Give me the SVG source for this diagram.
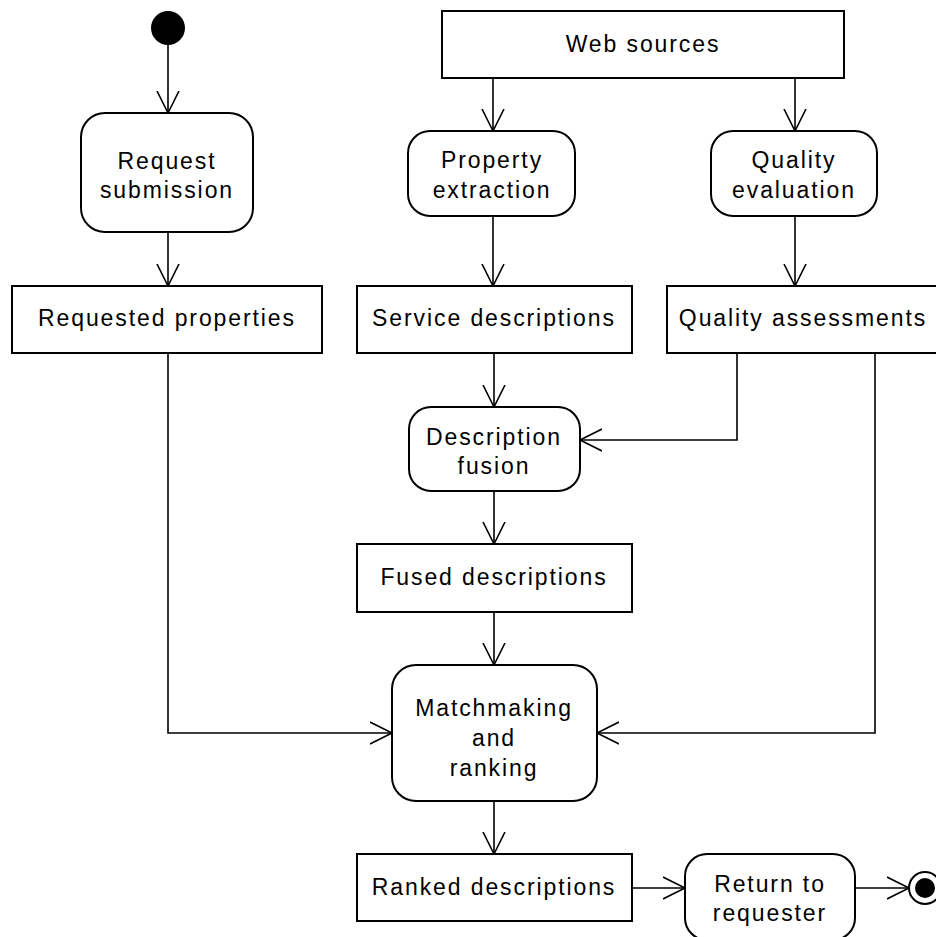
<svg xmlns="http://www.w3.org/2000/svg" width="936" height="937" viewBox="0 0 936 937">
  <style>
    .box { fill: #fff; stroke: #000; stroke-width: 2; }
    .lbl { font-family: "Liberation Sans", Arial, sans-serif; font-size: 23px; letter-spacing: 1.9px; fill: #000; text-anchor: middle; }
    .edge { fill: none; stroke: #000; stroke-width: 1.6; marker-end: url(#open); }
  </style>
  <defs>
    <marker id="open" viewBox="0 0 24 24" refX="22" refY="12" markerWidth="24" markerHeight="24" markerUnits="userSpaceOnUse" orient="auto">
      <path d="M0,1 L22,12 L0,23" fill="none" stroke="#000" stroke-width="1.6"/>
    </marker>
  </defs>
  <rect width="936" height="937" fill="#fff"/>

  <g id="connectors">
    <path class="edge" d="M168,45 V113"/>
    <path class="edge" d="M168,232 V286"/>
    <path class="edge" d="M168,353 V733 H392"/>
    <path class="edge" d="M493,78 V131"/>
    <path class="edge" d="M795,78 V131"/>
    <path class="edge" d="M493,216 V286"/>
    <path class="edge" d="M795,216 V286"/>
    <path class="edge" d="M494,353 V407"/>
    <path class="edge" d="M737,353 V440 H580"/>
    <path class="edge" d="M494,491 V544"/>
    <path class="edge" d="M494,612 V665"/>
    <path class="edge" d="M875,353 V733 H597"/>
    <path class="edge" d="M494,801 V854"/>
    <path class="edge" d="M632,888 H685"/>
    <path class="edge" d="M855,888 H909"/>
  </g>

  <g id="start">
    <circle cx="168" cy="28" r="17" fill="#000"/>
  </g>

  <g id="request-submission">
    <rect class="box" x="81" y="113" width="172" height="119" rx="24"/>
    <text class="lbl" x="167" y="169">Request</text>
    <text class="lbl" x="167" y="198">submission</text>
  </g>

  <g id="requested-properties">
    <rect class="box" x="12" y="286" width="310" height="67"/>
    <text class="lbl" x="167" y="326">Requested properties</text>
  </g>

  <g id="web-sources">
    <rect class="box" x="442" y="11" width="402" height="67"/>
    <text class="lbl" x="643" y="52">Web sources</text>
  </g>

  <g id="property-extraction">
    <rect class="box" x="408" y="131" width="167" height="85" rx="22"/>
    <text class="lbl" x="492" y="168">Property</text>
    <text class="lbl" x="492" y="198">extraction</text>
  </g>

  <g id="quality-evaluation">
    <rect class="box" x="711" y="131" width="166" height="85" rx="22"/>
    <text class="lbl" x="794" y="168">Quality</text>
    <text class="lbl" x="794" y="198">evaluation</text>
  </g>

  <g id="service-descriptions">
    <rect class="box" x="357" y="286" width="275" height="67"/>
    <text class="lbl" x="494" y="326">Service descriptions</text>
  </g>

  <g id="quality-assessments">
    <rect class="box" x="667" y="286" width="274" height="67"/>
    <text class="lbl" x="803" y="326">Quality assessments</text>
  </g>

  <g id="description-fusion">
    <rect class="box" x="409" y="407" width="171" height="84" rx="22"/>
    <text class="lbl" x="494" y="445">Description</text>
    <text class="lbl" x="494" y="474">fusion</text>
  </g>

  <g id="fused-descriptions">
    <rect class="box" x="357" y="544" width="275" height="68"/>
    <text class="lbl" x="494" y="585">Fused descriptions</text>
  </g>

  <g id="matchmaking-ranking">
    <rect class="box" x="392" y="665" width="205" height="136" rx="24"/>
    <text class="lbl" x="494" y="716">Matchmaking</text>
    <text class="lbl" x="494" y="746">and</text>
    <text class="lbl" x="494" y="776">ranking</text>
  </g>

  <g id="ranked-descriptions">
    <rect class="box" x="357" y="854" width="275" height="67"/>
    <text class="lbl" x="494" y="895">Ranked descriptions</text>
  </g>

  <g id="return-to-requester">
    <rect class="box" x="685" y="854" width="170" height="86" rx="22"/>
    <text class="lbl" x="770" y="892">Return to</text>
    <text class="lbl" x="770" y="921">requester</text>
  </g>

  <g id="end">
    <circle cx="925" cy="888" r="16" fill="#fff" stroke="#000" stroke-width="2"/>
    <circle cx="925" cy="888" r="10" fill="#000"/>
  </g>
</svg>
